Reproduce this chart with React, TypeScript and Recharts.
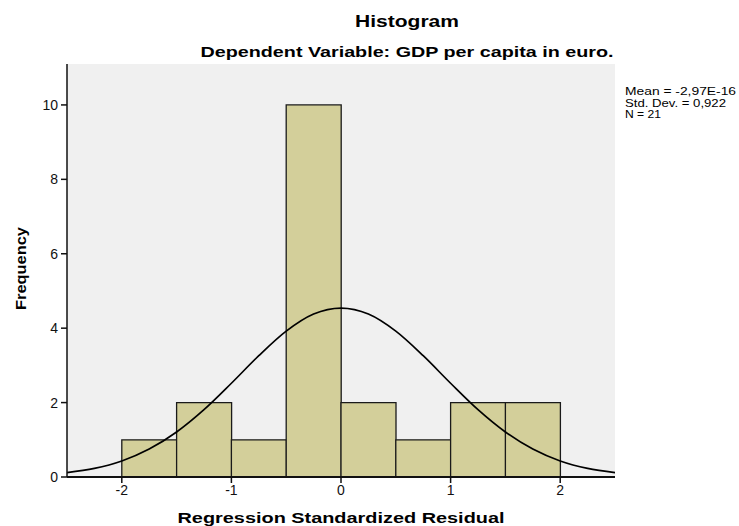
import {
    ComposedChart,
    Bar,
    Line,
    XAxis,
    YAxis,
    CartesianGrid,
    Label,
} from "recharts";

// histogram bins (midpoints of 0.5 wide bins) and counts
const binMids = [-1.75, -1.25, -0.75, -0.25, 0.25, 0.75, 1.25, 1.75];
const counts = [1, 2, 1, 10, 2, 1, 2, 2];

// normal curve, every 0.25
const curveX = [
    -2.5, -2.25, -2, -1.75, -1.5, -1.25, -1, -0.75, -0.5, -0.25, 0, 0.25, 0.5,
    0.75, 1, 1.25, 1.5, 1.75, 2, 2.25, 2.5,
];
const curveY = [
    0.12, 0.23, 0.43, 0.75, 1.21, 1.81, 2.52, 3.26, 3.92, 4.38, 4.54, 4.38,
    3.92, 3.26, 2.52, 1.81, 1.21, 0.75, 0.43, 0.23, 0.12,
];

const xTicks = [-2, -1, 0, 1, 2];
const yTicks = [0, 2, 4, 6, 8, 10];

const stats = ["Mean = -2,97E-16", "Std. Dev. = 0,922", "N = 21"];

const binData = binMids.map((mid, i) => ({ mid, count: counts[i] }));
const curveData = curveX.map((x, i) => ({ x, y: curveY[i] }));

const FONT = "Arial, 'Liberation Sans', sans-serif";
const BAR_FILL = "#d3cf9a";

export default function App() {
    return (
        <div style={{ position: "absolute", left: 0, top: 0, background: "#fff" }}>
            <ComposedChart
                width={739}
                height={526}
                data={binData}
                margin={{ top: 64, right: 124, bottom: 29, left: 27 }}
                barCategoryGap={0}
                barGap={0}
            >
                <CartesianGrid
                    horizontal={false}
                    vertical={false}
                    fill="#f0f0f0"
                />
                <XAxis
                    dataKey="mid"
                    type="number"
                    domain={[-2.5, 2.5]}
                    ticks={xTicks}
                    height={20}
                    tickSize={6}
                    tickMargin={2}
                    axisLine={{ stroke: "#111", strokeWidth: 2 }}
                    tickLine={{ stroke: "#111", strokeWidth: 1.5 }}
                    tick={{ fill: "#111", fontSize: 14, fontFamily: FONT }}
                >
                    <Label
                        content={({ viewBox }: any) => (
                            <text
                                x={viewBox.x + viewBox.width / 2}
                                y={viewBox.y + 46}
                                textAnchor="middle"
                                fontFamily={FONT}
                                fontWeight="bold"
                                fontSize={15}
                                fill="#000"
                                textLength={327}
                                lengthAdjust="spacingAndGlyphs"
                            >
                                Regression Standardized Residual
                            </text>
                        )}
                    />
                </XAxis>
                <XAxis
                    xAxisId="curve"
                    dataKey="x"
                    type="number"
                    domain={[-2.5, 2.5]}
                    orientation="top"
                    height={0}
                    tick={false}
                    tickLine={false}
                    axisLine={{ stroke: "#111", strokeWidth: 1.5 }}
                />
                <YAxis
                    type="number"
                    domain={[0, 11.1]}
                    ticks={yTicks}
                    width={40}
                    tickSize={6}
                    tickMargin={3}
                    axisLine={{ stroke: "#111", strokeWidth: 1.5 }}
                    tickLine={{ stroke: "#111", strokeWidth: 1.5 }}
                    tick={{ fill: "#111", fontSize: 14, fontFamily: FONT }}
                >
                    <Label
                        content={({ viewBox }: any) => {
                            const cy = viewBox.y + viewBox.height / 2;
                            return (
                                <text
                                    x={0}
                                    y={0}
                                    transform={`translate(26, ${cy - 2}) rotate(-90)`}
                                    textAnchor="middle"
                                    fontFamily={FONT}
                                    fontWeight="bold"
                                    fontSize={15}
                                    fill="#000"
                                    textLength={83}
                                    lengthAdjust="spacingAndGlyphs"
                                >
                                    Frequency
                                </text>
                            );
                        }}
                    />
                </YAxis>
                <YAxis
                    yAxisId="right"
                    orientation="right"
                    type="number"
                    domain={[0, 1]}
                    width={0}
                    tick={false}
                    tickLine={false}
                    axisLine={{ stroke: "#111", strokeWidth: 1.5 }}
                />
                <Bar
                    dataKey="count"
                    fill={BAR_FILL}
                    stroke="#1a1a1a"
                    strokeWidth={1.3}
                    isAnimationActive={false}
                />
                <Line
                    xAxisId="curve"
                    data={curveData}
                    dataKey="y"
                    type="monotone"
                    stroke="#000"
                    strokeWidth={1.7}
                    dot={false}
                    activeDot={false}
                    isAnimationActive={false}
                />
                <text
                    x={407}
                    y={27}
                    textAnchor="middle"
                    fontFamily={FONT}
                    fontWeight="bold"
                    fontSize={17}
                    fill="#000"
                    textLength={104}
                    lengthAdjust="spacingAndGlyphs"
                >
                    Histogram
                </text>
                <text
                    x={407}
                    y={57}
                    textAnchor="middle"
                    fontFamily={FONT}
                    fontWeight="bold"
                    fontSize={15}
                    fill="#000"
                    textLength={413}
                    lengthAdjust="spacingAndGlyphs"
                >
                    Dependent Variable: GDP per capita in euro.
                </text>
                {stats.map((s, i) => (
                    <text
                        key={s}
                        x={625}
                        y={95 + i * 11.5}
                        fontFamily={FONT}
                        fontSize={10.5}
                        fill="#000"
                        textLength={[111, 101, 36][i]}
                        lengthAdjust="spacingAndGlyphs"
                    >
                        {s}
                    </text>
                ))}
            </ComposedChart>
        </div>
    );
}
